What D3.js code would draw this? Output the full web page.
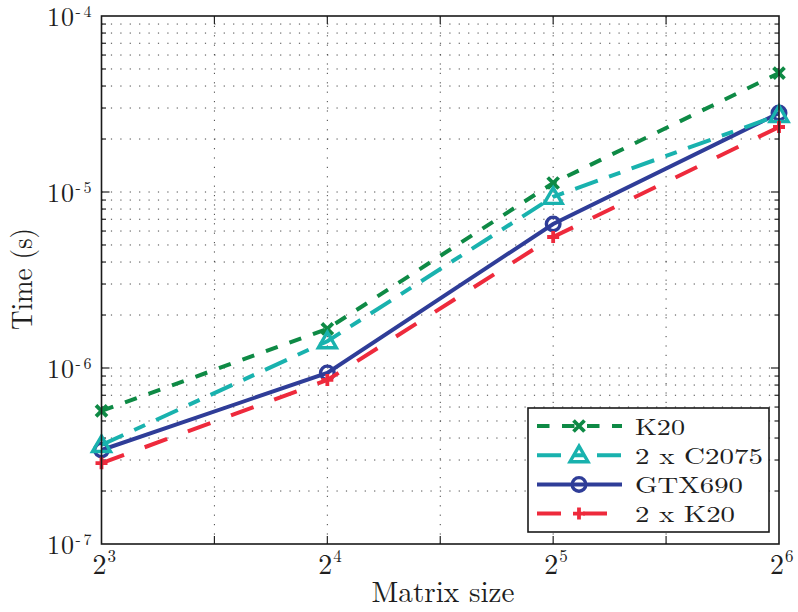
<!DOCTYPE html>
<html><head><meta charset="utf-8">
<script src="https://cdn.jsdelivr.net/npm/d3@7"></script>
<style>body{margin:0;background:#fff}svg{display:block}text{font-family:"Latin Modern Roman","Liberation Serif",serif;}</style>
</head><body>
<svg id="chart" width="798" height="612"></svg>
<script>
// ---- data ----
const exponents = [3, 4, 5, 6];             // matrix size = 2^exponent
const seriesNames = ["K20", "2 x C2075", "GTX690", "2 x K20"];
const k20     = [5.70e-7, 1.67e-6, 1.125e-5, 4.74e-5];
const c2075x2 = [3.65e-7, 1.42e-6, 9.38e-6, 2.74e-5];
const gtx690  = [3.42e-7, 9.38e-7, 6.58e-6, 2.81e-5];
const k20x2   = [2.88e-7, 8.55e-7, 5.55e-6, 2.34e-5];
const yTickExps = [-7, -6, -5, -4];
const xTickExps = [3, 4, 5, 6];
const xGridVals = [3.5, 4, 4.5, 5, 5.5];

const series = [
  {name: seriesNames[0], values: k20,     color: "#0e8a45", dash: "12.5,12.5", marker: "x",   order: 0},
  {name: seriesNames[1], values: c2075x2, color: "#19b2ae", dash: "24,12,12,12", marker: "tri", order: 2},
  {name: seriesNames[2], values: gtx690,  color: "#2f3d98", dash: null,        marker: "circ", order: 1},
  {name: seriesNames[3], values: k20x2,   color: "#ee2a3c", dash: "24,22",     marker: "plus", order: 3}
];

const L = 101.5, R = 779, T = 16, B = 544;
const svg = d3.select("#chart");
const x = d3.scaleLinear().domain([3, 6]).range([L, R]);
const y = d3.scaleLog().domain([1e-7, 1e-4]).range([B, T]);
const TXT = "#1e1e1e";

// grid
const gridY = [];
for (let e = -7; e < -4; e++) for (let m = 1; m <= 9; m++) gridY.push(m * Math.pow(10, e));
const innerY = gridY.filter(v => v > 1e-7 * 1.01);
const g = svg.append("g");
g.selectAll(".gy").data(innerY).enter().append("line")
  .attr("x1", L).attr("x2", R).attr("y1", d => y(d)).attr("y2", d => y(d))
  .attr("stroke", "#444").attr("stroke-width", 1).attr("stroke-dasharray", "1.2,8.2");
g.selectAll(".gx").data(xGridVals).enter().append("line")
  .attr("y1", B).attr("y2", T).attr("x1", d => x(d)).attr("x2", d => x(d))
  .attr("stroke", "#444").attr("stroke-width", 1).attr("stroke-dasharray", "1.2,8.2");

// ticks
const tk = svg.append("g").attr("stroke", "#222").attr("stroke-width", 1.2);
innerY.forEach(v => {
  const mant = Math.round(v / Math.pow(10, Math.floor(Math.log10(v) + 1e-9)));
  const len = mant === 1 ? 8 : 4.5;
  tk.append("line").attr("x1", L).attr("x2", L + len).attr("y1", y(v)).attr("y2", y(v));
  tk.append("line").attr("x1", R).attr("x2", R - len).attr("y1", y(v)).attr("y2", y(v));
});
xGridVals.forEach(v => {
  tk.append("line").attr("x1", x(v)).attr("x2", x(v)).attr("y1", B).attr("y2", B - 8);
  tk.append("line").attr("x1", x(v)).attr("x2", x(v)).attr("y1", T).attr("y2", T + 8);
});

// lines
const line = d3.line().x((d, i) => x(exponents[i])).y(d => y(d));
function marker(sel, type, color) {
  if (type === "x") sel.append("path").attr("d", "M-5.5,-5.5L5.5,5.5M-5.5,5.5L5.5,-5.5").attr("stroke", color).attr("stroke-width", 3.8).attr("fill", "none");
  if (type === "plus") sel.append("path").attr("d", "M-6,0L6,0M0,-6L0,6").attr("stroke", color).attr("stroke-width", 3.8).attr("fill", "none");
  if (type === "circ") sel.append("circle").attr("r", 6.8).attr("stroke", color).attr("stroke-width", 3.4).attr("fill", "none");
  if (type === "tri") sel.append("path").attr("d", "M0,-9L9,6.5L-9,6.5Z").attr("stroke", color).attr("stroke-width", 3.4).attr("stroke-linejoin", "miter").attr("fill", "none");
}
const plotSeries = series.slice().sort((a, b) => a.order - b.order);
svg.append("clipPath").attr("id", "clip").append("rect").attr("x", L).attr("y", T).attr("width", R - L).attr("height", B - T);
plotSeries.forEach(s => {
  svg.append("path").datum(s.values).attr("d", line)
    .attr("fill", "none").attr("stroke", s.color).attr("stroke-width", 4)
    .attr("stroke-dasharray", s.dash).attr("clip-path", "url(#clip)");
  s.values.forEach((v, i) => {
    const m = svg.append("g").attr("transform", `translate(${x(exponents[i])},${y(v)})`);
    marker(m, s.marker, s.color);
  });
});

// frame
svg.append("rect").attr("x", L).attr("y", T).attr("width", R - L).attr("height", B - T)
  .attr("fill", "none").attr("stroke", "#1a1a1a").attr("stroke-width", 1.6);

// y tick labels
yTickExps.forEach(e => {
  const yy = y(Math.pow(10, e));
  svg.append("text").attr("x", 74).attr("y", yy + 10).attr("text-anchor", "end")
    .attr("font-size", 26).attr("fill", TXT).attr("textLength", 27).text("10");
  svg.append("text").attr("x", 75.5).attr("y", yy + 0.5)
    .attr("font-size", 16).attr("fill", TXT).attr("textLength", 16).text("-" + Math.abs(e));
});
// x tick labels
xTickExps.forEach(e => {
  const xx = x(e);
  svg.append("text").attr("x", xx + 5).attr("y", B + 30).attr("text-anchor", "end")
    .attr("font-size", 28).attr("fill", TXT).text("2");
  svg.append("text").attr("x", xx + 6).attr("y", B + 18)
    .attr("font-size", 17).attr("fill", TXT).text(String(e));
});

// axis titles
svg.append("text").attr("x", 443).attr("y", 602).attr("text-anchor", "middle")
  .attr("font-size", 29).attr("fill", TXT)
  .attr("textLength", 143).attr("lengthAdjust", "spacingAndGlyphs").text("Matrix size");
svg.append("text").attr("transform", "translate(32,279) rotate(-90)").attr("text-anchor", "middle")
  .attr("font-size", 29).attr("fill", TXT)
  .attr("textLength", 102).attr("lengthAdjust", "spacingAndGlyphs").text("Time (s)");

// legend
const lg = svg.append("g");
lg.append("rect").attr("x", 528).attr("y", 408).attr("width", 241).attr("height", 124)
  .attr("fill", "#fff").attr("stroke", "#1a1a1a").attr("stroke-width", 1.6);
const legW = [50, 128, 108, 100];
series.forEach((s, i) => {
  const yy = 426 + i * 29.2;
  lg.append("line").attr("x1", 537).attr("x2", 622).attr("y1", yy).attr("y2", yy)
    .attr("stroke", s.color).attr("stroke-width", 4).attr("stroke-dasharray", s.dash);
  const m = lg.append("g").attr("transform", `translate(579,${yy})`);
  marker(m, s.marker, s.color);
  lg.append("text").attr("x", 635).attr("y", yy + 8.5)
    .attr("font-size", 22.5).attr("fill", TXT)
    .attr("textLength", legW[i]).attr("lengthAdjust", "spacingAndGlyphs").text(s.name);
});
</script>
</body></html>
